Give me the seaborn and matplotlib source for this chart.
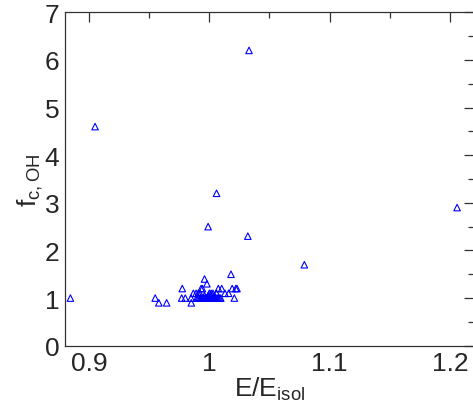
import matplotlib
matplotlib.use("Agg")
import matplotlib.pyplot as plt
import seaborn as sns
import pandas as pd
from matplotlib.ticker import MultipleLocator

# E/E_isol values
e_ratio = [
    0.8845, 0.905, 1.033, 1.006, 0.999, 1.032, 1.206, 1.079, 1.018, 0.996, 0.998,
    0.9775, 0.955, 0.958, 0.9645, 0.977, 0.980, 0.985, 0.9848, 0.9867,
    0.9931, 0.9942, 0.9908, 0.9922, 0.9890, 1.0000, 1.0015, 1.0030,
    1.0075, 1.0103, 1.006, 1.013, 1.016,
    1.019, 1.022, 1.023, 1.0208,
    0.9895, 0.9905, 0.9915, 0.9925, 0.9935, 0.9945, 0.9955, 0.9965, 0.9975,
    0.9985, 0.9995, 1.0005, 1.0015, 1.0025, 1.0035, 1.0045, 1.0055, 1.0065,
    1.0075, 1.0085, 1.0095, 0.9960, 0.9990, 1.0010, 1.0040,
]
# f_c,OH values
f_coh = [
    1.0, 4.6, 6.2, 3.2, 2.5, 2.3, 2.9, 1.7, 1.5, 1.4, 1.3,
    1.2, 1.0, 0.9, 0.9, 1.0, 1.0, 0.9, 1.0, 1.1,
    1.2, 1.2, 1.1, 1.1, 1.1, 1.1, 1.1, 1.1,
    1.2, 1.2, 1.1, 1.1, 1.1,
    1.2, 1.2, 1.2, 1.0,
    1.0, 1.0, 1.0, 1.0, 1.0, 1.0, 1.0, 1.0, 1.0,
    1.0, 1.0, 1.0, 1.0, 1.0, 1.0, 1.0, 1.0, 1.0,
    1.0, 1.0, 1.0, 1.05, 1.05, 1.05, 1.05,
]

df = pd.DataFrame({"E": e_ratio, "f": f_coh})

sns.set_style("white")
plt.rcParams["font.family"] = ["Liberation Sans", "DejaVu Sans"]
plt.rcParams["mathtext.fontset"] = "custom"
plt.rcParams["mathtext.rm"] = "Liberation Sans"
plt.rcParams["mathtext.it"] = "Liberation Sans"

fig = plt.figure(figsize=(4.73, 4.14), dpi=100)
ax = fig.add_axes([65 / 473, 67.3 / 414, 1.0 - 65 / 473 + 0.002, 333.4 / 414])

sns.scatterplot(data=df, x="E", y="f", ax=ax, marker="^", s=22,
                facecolor="none", edgecolor="#0000ff", linewidth=0.8)

ax.set_xlim(0.88, 1.22)
ax.set_ylim(0, 7)
ax.xaxis.set_major_locator(MultipleLocator(0.1))
ax.xaxis.set_minor_locator(MultipleLocator(0.05))
ax.yaxis.set_major_locator(MultipleLocator(1))
ax.yaxis.set_minor_locator(MultipleLocator(0.5))
ax.set_xticks([0.9, 1.0, 1.1, 1.2])
ax.set_xticklabels(["0.9", "1", "1.1", "1.2"])
ax.tick_params(which="both", direction="in", top=True, right=True,
               labelsize=19, color="#333333", pad=4)
ax.tick_params(which="major", length=7, width=0.9)
ax.tick_params(which="minor", length=4, width=0.9)
for sp in ax.spines.values():
    sp.set_color("#333333")
    sp.set_linewidth(0.9)

ax.set_xlabel(r"$\mathregular{E/E_{isol}}$", fontsize=19, labelpad=0)
ax.set_ylabel(r"$\mathregular{f_{c,OH}}$", fontsize=19, labelpad=0)

fig.savefig("out.png", dpi=100)
